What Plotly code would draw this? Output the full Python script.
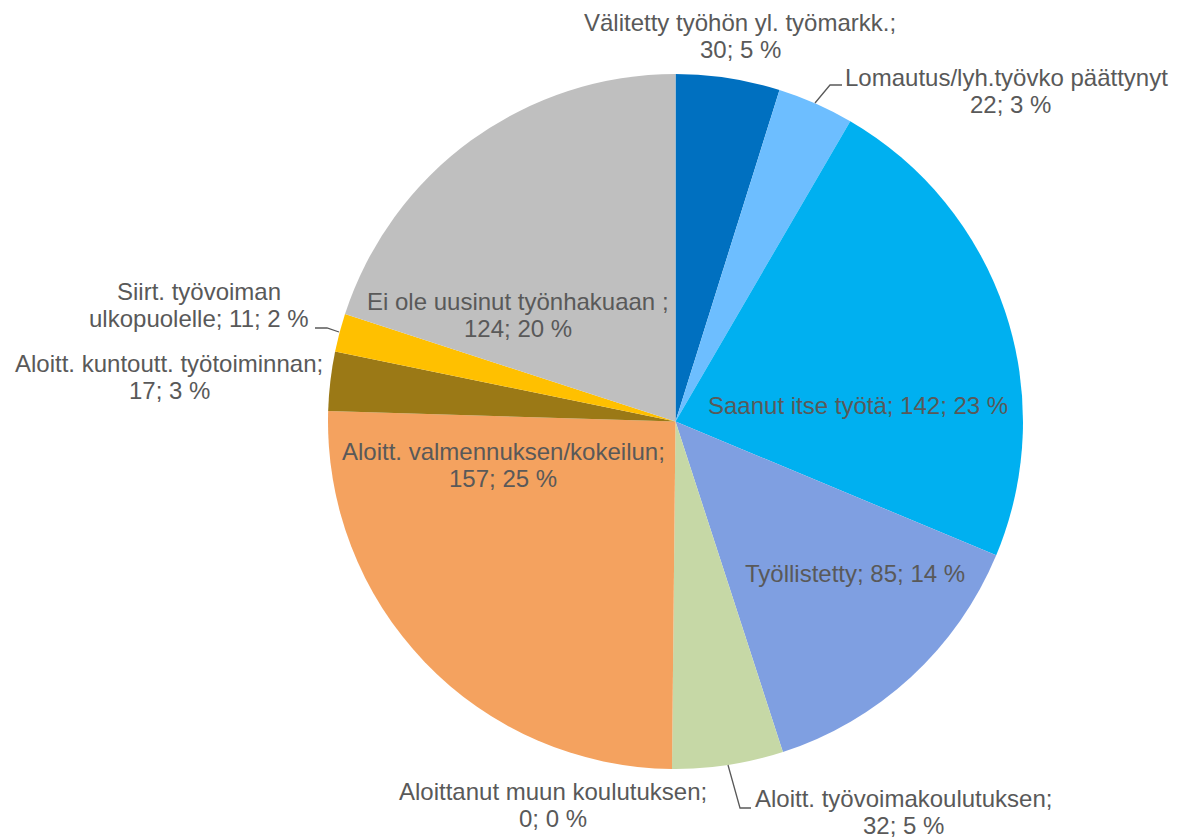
import plotly.graph_objects as go

# ---- data ----
categories = [
    "Välitetty työhön yl. työmarkk.",
    "Lomautus/lyh.työvko päättynyt",
    "Saanut itse työtä",
    "Työllistetty",
    "Aloitt. työvoimakoulutuksen",
    "Aloittanut muun koulutuksen",
    "Aloitt. valmennuksen/kokeilun",
    "Aloitt. kuntoutt. työtoiminnan",
    "Siirt. työvoiman ulkopuolelle",
    "Ei ole uusinut työnhakuaan ",
]
values = [30, 22, 142, 85, 32, 0, 157, 17, 11, 124]
percents = [5, 3, 23, 14, 5, 0, 25, 3, 2, 20]
colors = ["#0070C0", "#6DBEFF", "#00B0F0", "#7F9FE1", "#C6D8A6",
          "#A5A5A5", "#F4A25F", "#9B7916", "#FFC000", "#BFBFBF"]

W, H = 1177, 837
OFF = 8  # page body margin: figure origin sits at page (8, 8)
CX, CY, R = 675.5 - OFF, 421.5 - OFF, 347.5

# label layout in page pixels: (center x, first baseline y, wrap mode)
label_layout = [
    (740, 31, "cat"),
    (1010, 86, "cat"),
    (858, 414, "one"),
    (855, 582, "one"),
    (903, 807, "cat"),
    (553, 800, "cat"),
    (503, 460, "cat"),
    (169, 372, "cat"),
    (199, 300, 2),
    (518, 310, "cat"),
]
leaders = [
    [(815, 103), (830, 85), (842, 85)],
    [(315, 328), (327, 328), (339, 332)],
    [(728, 765), (740, 808), (751, 808)],
]

FONT = dict(family="Liberation Sans, Arial, sans-serif", size=24, color="#595959")
LINE_H = 26.5


def px(x):
    return (x - OFF) / W


def py(y):
    return 1 - (y - OFF) / H


fig = go.Figure(go.Pie(
    labels=categories, values=values, sort=False, direction="clockwise",
    rotation=0, textinfo="none", hoverinfo="label+value+percent",
    marker=dict(colors=colors, line=dict(width=0)),
    domain=dict(x=[(CX - R) / W, (CX + R) / W],
                y=[(H - CY - R) / H, (H - CY + R) / H]),
    showlegend=False,
))

annotations = []
for cat, v, p, (lx, ly, mode) in zip(categories, values, percents, label_layout):
    tail = f"{v}; {p} %"
    if mode == "one":
        lines = [f"{cat.strip()}; {tail}"]
    elif mode == "cat":
        lines = [f"{cat};", tail]
    else:
        words = cat.split(" ")
        lines = [" ".join(words[:mode]), " ".join(words[mode:]) + f"; {tail}"]
    for i, t in enumerate(lines):
        mid = ly + i * LINE_H - 8.3
        annotations.append(dict(
            x=px(lx), y=py(mid), xref="paper", yref="paper",
            text=t, showarrow=False, xanchor="center", yanchor="middle",
            font=FONT,
        ))

shapes = []
for pts in leaders:
    path = "M " + " L ".join(f"{px(x)},{py(y)}" for x, y in pts)
    shapes.append(dict(type="path", path=path, xref="paper", yref="paper",
                       line=dict(color="#595959", width=1.3)))

fig.update_layout(
    width=W, height=H,
    margin=dict(l=0, r=0, t=0, b=0),
    paper_bgcolor="white", plot_bgcolor="white",
    annotations=annotations, shapes=shapes,
)

fig.write_html("out.html")
